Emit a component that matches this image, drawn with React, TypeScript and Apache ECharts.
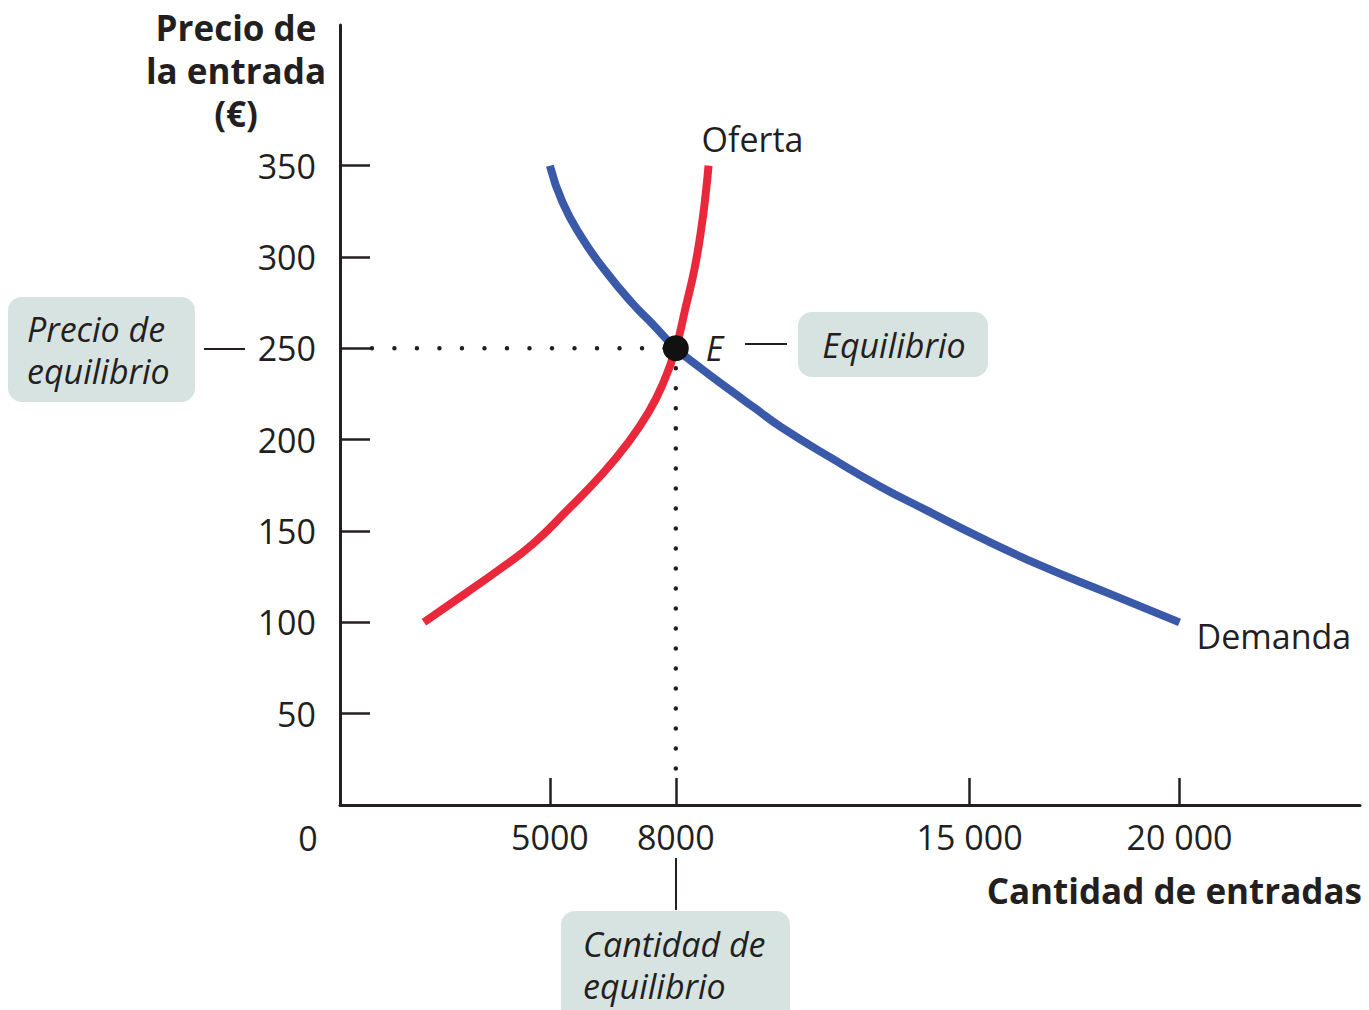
import React, { useEffect, useRef } from "react";
import * as echarts from "echarts";

// ---- Data ----
const demandQty = [5000, 5300, 5750, 6300, 6950, 7500, 8000, 8600, 9300, 9900, 10500, 11700, 12900, 14000, 15200, 16700, 18300, 20000];
const demandPrice = [350, 330, 311, 293, 275, 262, 250, 239, 227, 217, 207, 190, 174, 161, 147, 131, 116, 100];
const supplyQty = [2000, 3000, 3800, 4600, 5400, 6200, 6850, 7350, 7700, 8000, 8230, 8450, 8610, 8710, 8780];
const supplyPrice = [100, 116, 129, 143, 161, 180, 198, 215, 231, 250, 272, 294, 316, 334, 350];
const eqQty = 8000;
const eqPrice = 250;
const yTicks = [50, 100, 150, 200, 250, 300, 350];
const xTicks = [5000, 8000, 15000, 20000];
const guideStartQty = 760;
const guideEndPrice = 19;

const FONT = "'Open Sans', 'Noto Sans', sans-serif";
const INK = "#231f20";
const BOX = "#d7e3e0";

const fmtX = (v: number) => (v >= 10000 ? String(v).replace(/(\d+)(\d{3})$/, "$1 $2") : String(v));

export default function App() {
  const ref = useRef<HTMLDivElement>(null);
  useEffect(() => {
    if (!ref.current) return;
    const chart = echarts.init(ref.current, null, { renderer: "svg" });
    const demand = demandQty.map((q, i) => [q, demandPrice[i]]);
    const supply = supplyQty.map((q, i) => [q, supplyPrice[i]]);
    const italic = { fontFamily: FONT, fontStyle: "italic", fontSize: 34, fill: INK };
    chart.setOption({
      animation: false,
      grid: { left: 340, right: 9, top: 25, bottom: 205, containLabel: false },
      xAxis: {
        type: "value",
        min: 0,
        max: 24300,
        splitLine: { show: false },
        axisLine: { lineStyle: { color: INK, width: 3 } },
        axisTick: { show: true, inside: true, length: 27, customValues: xTicks, lineStyle: { color: INK, width: 2.5 } },
        axisLabel: {
          customValues: xTicks,
          formatter: (v: number) => fmtX(v),
          fontFamily: FONT,
          fontSize: 34,
          color: INK,
          margin: 15,
        },
      },
      yAxis: {
        type: "value",
        min: 0,
        max: 427,
        splitLine: { show: false },
        axisLine: { lineStyle: { color: INK, width: 3 } },
        axisTick: { show: true, inside: true, length: 30, customValues: yTicks, lineStyle: { color: INK, width: 2.5 } },
        axisLabel: {
          customValues: yTicks,
          fontFamily: FONT,
          fontSize: 34,
          color: INK,
          margin: 24,
        },
      },
      series: [
        {
          type: "line",
          name: "Guía precio",
          data: [[guideStartQty, eqPrice], [eqQty, eqPrice]],
          symbol: "none",
          lineStyle: { color: INK, width: 4.5, type: [0.01, 22.5], cap: "round" },
          z: 1,
          silent: true,
        },
        {
          type: "line",
          name: "Guía cantidad",
          data: [[eqQty, eqPrice], [eqQty, guideEndPrice]],
          symbol: "none",
          lineStyle: { color: INK, width: 4.5, type: [0.01, 20], cap: "round" },
          z: 1,
          silent: true,
        },
        {
          type: "line",
          name: "Demanda",
          data: demand,
          smooth: 0.5,
          symbol: "none",
          lineStyle: { color: "#3a5aa9", width: 8 },
          endLabel: {
            show: true,
            formatter: "Demanda",
            fontFamily: FONT,
            fontSize: 34,
            color: INK,
            distance: 5,
            offset: [12, 14],
          },
          z: 3,
        },
        {
          type: "line",
          name: "Oferta",
          data: supply,
          smooth: 0.5,
          symbol: "none",
          lineStyle: { color: "#e9283b", width: 8 },
          endLabel: {
            show: true,
            formatter: "Oferta",
            fontFamily: FONT,
            fontSize: 34,
            color: INK,
            distance: 5,
            offset: [-12, -27],
          },
          z: 4,
        },
        {
          type: "scatter",
          name: "Equilibrio",
          data: [[eqQty, eqPrice]],
          symbolSize: 26,
          itemStyle: { color: "#111", opacity: 1 },
          label: {
            show: true,
            position: "right",
            distance: 17,
            formatter: "E",
            fontFamily: FONT,
            fontStyle: "italic",
            fontSize: 34,
            color: INK,
          },
          z: 5,
        },
      ],
      graphic: [
        // Y axis title
        {
          type: "text",
          x: 236,
          y: 6,
          style: {
            text: "Precio de\nla entrada\n(€)",
            fontFamily: FONT,
            fontWeight: "bold",
            fontSize: 35,
            lineHeight: 43,
            fill: INK,
            align: "center",
            textAlign: "center",
            verticalAlign: "top",
            textVerticalAlign: "top",
          },
        },
        // X axis title
        {
          type: "text",
          x: 1362,
          y: 890,
          style: {
            text: "Cantidad de entradas",
            fontFamily: FONT,
            fontWeight: "bold",
            fontSize: 35,
            fill: INK,
            align: "right",
            textAlign: "right",
            verticalAlign: "middle",
            textVerticalAlign: "middle",
          },
        },
        // origin label
        {
          type: "text",
          x: 308,
          y: 838,
          style: {
            text: "0",
            fontFamily: FONT,
            fontSize: 34,
            fill: INK,
            align: "center",
            textAlign: "center",
            verticalAlign: "middle",
            textVerticalAlign: "middle",
          },
        },
        // Precio de equilibrio box
        { type: "rect", shape: { x: 8, y: 297, width: 187, height: 105, r: 14 }, style: { fill: BOX } },
        {
          type: "text",
          x: 27,
          y: 350,
          style: {
            ...italic,
            text: "Precio de\nequilibrio",
            lineHeight: 42,
            align: "left",
            textAlign: "left",
            verticalAlign: "middle",
            textVerticalAlign: "middle",
          },
        },
        { type: "line", shape: { x1: 204, y1: 349, x2: 245, y2: 349 }, style: { stroke: INK, lineWidth: 2 } },
        // Equilibrio box
        { type: "rect", shape: { x: 798, y: 312, width: 190, height: 65, r: 14 }, style: { fill: BOX } },
        {
          type: "text",
          x: 894,
          y: 345,
          style: {
            ...italic,
            text: "Equilibrio",
            align: "center",
            textAlign: "center",
            verticalAlign: "middle",
            textVerticalAlign: "middle",
          },
        },
        { type: "line", shape: { x1: 745, y1: 344, x2: 787, y2: 344 }, style: { stroke: INK, lineWidth: 2 } },
        // Cantidad de equilibrio box
        { type: "rect", shape: { x: 561, y: 911, width: 229, height: 115, r: 14 }, style: { fill: BOX } },
        {
          type: "text",
          x: 583,
          y: 965,
          style: {
            ...italic,
            text: "Cantidad de\nequilibrio",
            lineHeight: 42,
            align: "left",
            textAlign: "left",
            verticalAlign: "middle",
            textVerticalAlign: "middle",
          },
        },
        { type: "line", shape: { x1: 676, y1: 858, x2: 676, y2: 910 }, style: { stroke: INK, lineWidth: 2 } },
      ],
    });
    return () => chart.dispose();
  }, []);
  return (
    <div
      ref={ref}
      style={{ position: "fixed", left: 0, top: 0, width: 1369, height: 1010, background: "#fff" }}
    />
  );
}
